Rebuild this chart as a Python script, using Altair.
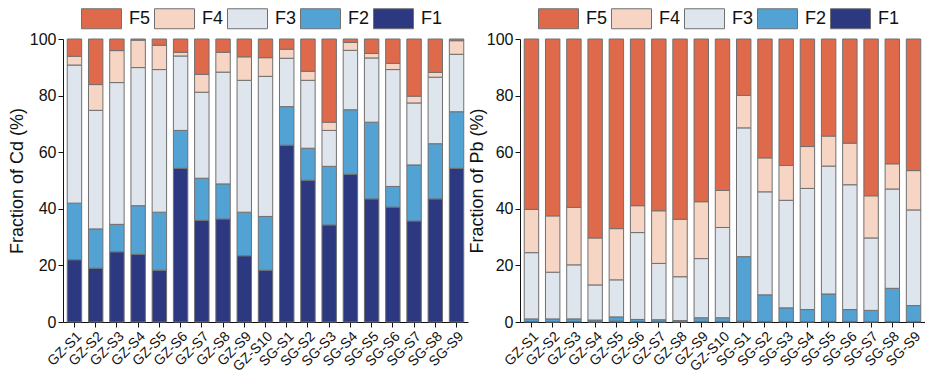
import altair as alt
import pandas as pd

samples = ["GZ-S1", "GZ-S2", "GZ-S3", "GZ-S4", "GZ-S5", "GZ-S6", "GZ-S7", "GZ-S8", "GZ-S9", "GZ-S10",
           "SG-S1", "SG-S2", "SG-S3", "SG-S4", "SG-S5", "SG-S6", "SG-S7", "SG-S8", "SG-S9"]
fractions = ["F5", "F4", "F3", "F2", "F1"]
colors = ["#DF6A4B", "#F7D5C4", "#DEE5EC", "#52A2D4", "#2C387F"]

# Cd fractions (%)
cd_f1 = [22.0, 19.0, 24.8, 23.9, 18.3, 54.3, 35.9, 36.4, 23.4, 18.3, 62.5, 50.1, 34.3, 52.2, 43.5, 40.6, 35.7, 43.5, 54.3]
cd_f2 = [20.0, 13.9, 9.7, 17.2, 20.5, 13.4, 14.9, 12.4, 15.4, 19.0, 13.6, 11.3, 20.7, 22.8, 27.1, 7.3, 19.8, 19.5, 20.0]
cd_f3 = [48.8, 41.9, 50.1, 48.8, 50.4, 26.3, 30.4, 39.5, 46.6, 49.5, 17.1, 24.0, 12.7, 21.0, 22.7, 41.3, 21.9, 23.5, 20.3]
cd_f4 = [3.1, 9.1, 11.3, 9.7, 8.6, 1.3, 6.3, 7.0, 8.3, 6.6, 3.2, 3.2, 2.9, 2.8, 1.6, 2.2, 2.4, 1.7, 4.8]
cd_f5 = [6.1, 16.1, 4.1, 0.4, 2.2, 4.7, 12.5, 4.7, 6.3, 6.6, 3.6, 11.4, 29.4, 1.2, 5.1, 8.6, 20.2, 11.8, 0.6]

# Pb fractions (%)
pb_f1 = [0.2, 0.1, 0.2, 0.1, 0.3, 0.2, 0.1, 0.1, 0.2, 0.2, 0.3, 0.2, 0.2, 0.1, 0.2, 0.2, 0.1, 0.2, 0.2]
pb_f2 = [0.9, 1.0, 0.9, 0.6, 1.5, 0.7, 0.7, 0.4, 1.3, 1.3, 22.8, 9.4, 4.8, 4.3, 9.7, 4.2, 4.0, 11.7, 5.6]
pb_f3 = [23.4, 16.5, 19.1, 12.4, 13.1, 30.7, 19.9, 15.5, 20.9, 31.9, 45.5, 36.4, 38.0, 42.8, 45.2, 44.1, 25.6, 35.1, 33.8]
pb_f4 = [15.3, 19.9, 20.3, 16.6, 18.1, 9.5, 18.6, 20.3, 20.1, 13.1, 11.5, 12.0, 12.3, 14.8, 10.6, 14.7, 14.9, 8.9, 13.9]
pb_f5 = [60.2, 62.5, 59.5, 70.3, 67.0, 58.9, 60.7, 63.7, 57.5, 53.5, 19.9, 42.0, 44.7, 38.0, 34.3, 36.8, 55.4, 44.1, 46.5]


def long_table(series):
    rows = []
    for rank, (name, vals) in enumerate(series):
        for s, v in zip(samples, vals):
            rows.append({"Sample": s, "Fraction": name, "Value": v, "Rank": rank})
    return pd.DataFrame(rows)


cd_df = long_table([("F1", cd_f1), ("F2", cd_f2), ("F3", cd_f3), ("F4", cd_f4), ("F5", cd_f5)])
pb_df = long_table([("F1", pb_f1), ("F2", pb_f2), ("F3", pb_f3), ("F4", pb_f4), ("F5", pb_f5)])

FONT = "Liberation Sans"


def panel(df, ytitle, tpad):
    return alt.Chart(df).mark_bar(stroke="#707070", strokeWidth=1).encode(
        x=alt.X("Sample:N", sort=samples, title=None,
                scale=alt.Scale(paddingInner=0.32, paddingOuter=0.2),
                axis=alt.Axis(labelAngle=315, labelFontSize=14, labelColor="#111",
                              tickColor="#111", domainColor="#111", tickSize=5,
                              labelPadding=2)),
        y=alt.Y("Value:Q", stack="zero", title=ytitle,
                scale=alt.Scale(domain=[0, 100], nice=False),
                axis=alt.Axis(values=[0, 20, 40, 60, 80, 100], grid=False, labelFontSize=16,
                              labelColor="#111", titleFontSize=18, titleFontWeight="normal",
                              titleColor="#111", tickColor="#111", domainColor="#111",
                              tickSize=5, titlePadding=tpad)),
        color=alt.Color("Fraction:N", scale=alt.Scale(domain=fractions, range=colors),
                        legend=alt.Legend(orient="none", legendX=28, legendY=-31,
                                          direction="horizontal", title=None,
                                          symbolType="M-2,-1H2V1H-2Z", symbolSize=400,
                                          symbolStrokeColor="#707070", symbolStrokeWidth=1,
                                          symbolOpacity=1, labelFontSize=18, labelColor="#111",
                                          labelOffset=17, columnPadding=1)),
        order=alt.Order("Rank:Q", sort="ascending"),
    ).properties(width=405, height=283)


chart = alt.hconcat(
    panel(cd_df, "Fraction of Cd (%)", 3),
    panel(pb_df, "Fraction of Pb (%)", 0),
    spacing=0,
).resolve_scale(color="independent").properties(padding=0).configure(
    font=FONT
).configure_view(stroke=None)

chart.save("out.html", embed_options={"renderer": "svg", "actions": False})
